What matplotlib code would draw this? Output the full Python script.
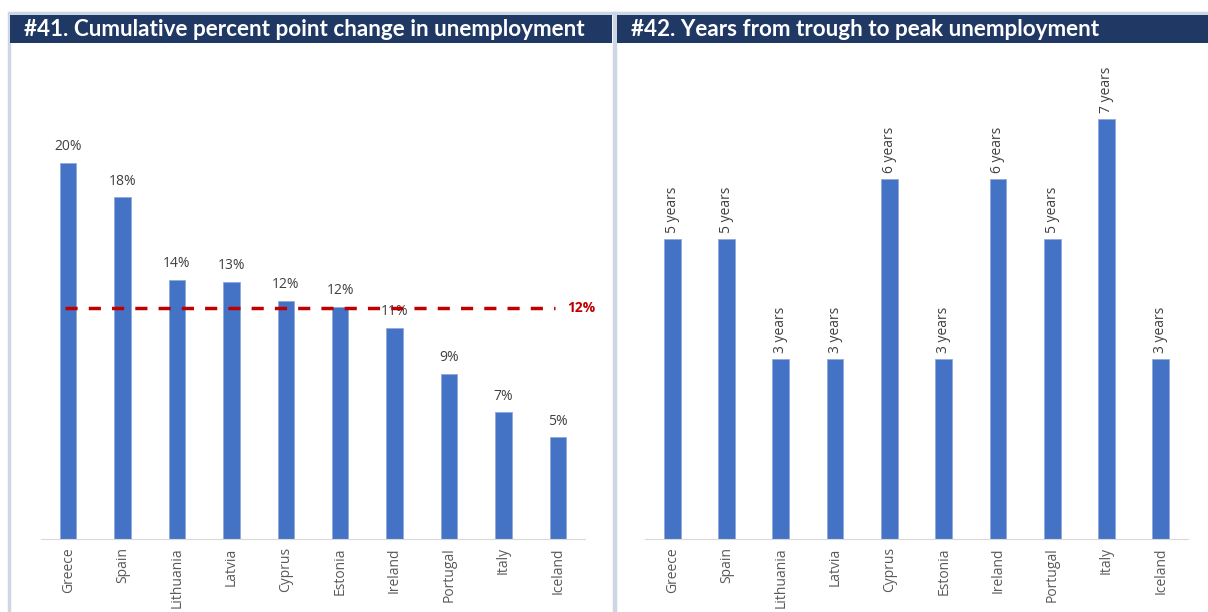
import numpy as np
import matplotlib
matplotlib.use("Agg")
import matplotlib.pyplot as plt
from matplotlib.patches import Rectangle

plt.rcParams['font.family'] = ['Open Sans', 'DejaVu Sans']

countries = ["Greece", "Spain", "Lithuania", "Latvia", "Cyprus",
             "Estonia", "Ireland", "Portugal", "Italy", "Iceland"]
pp_change = [19.6, 17.8, 13.5, 13.4, 12.4, 12.1, 11.0, 8.6, 6.6, 5.3]
years_to_peak = [5, 5, 3, 3, 6, 3, 6, 5, 7, 3]

title_left = "#41. Cumulative percent point change in unemployment"
title_right = "#42. Years from trough to peak unemployment"

W, H = 1208, 612
navy = "#203864"
frame = "#cdd6e4"
bar_blue = "#4472c4"
label_grey = "#404040"
tick_grey = "#595959"
avg_red = "#c00000"

fig = plt.figure(figsize=(W / 100, H / 100), dpi=100)


def px_box(x0, y0, x1, y1):
    # pixel box (top-left origin) -> figure fraction [left, bottom, width, height]
    return [x0 / W, 1 - y1 / H, (x1 - x0) / W, (y1 - y0) / H]


# panel frames and title bars
for x0, x1 in [(9, 614), (615, 1212)]:
    l, b, w, h = px_box(x0, 13, x1, 620)
    fig.patches.append(Rectangle((l, b), w, h, transform=fig.transFigure,
                                 facecolor="none", edgecolor=frame, lw=2.5,
                                 zorder=-1))
for x0, x1, txt in [(10, 612, title_left), (617, 1208, title_right)]:
    l, b, w, h = px_box(x0, 15, x1, 43)
    fig.patches.append(Rectangle((l, b), w, h, transform=fig.transFigure,
                                 facecolor=navy, edgecolor="none", zorder=-1))
    fig.text(l + 14 / W, b + h / 2 - 1 / H, txt, color="white", fontsize=16.2,
             fontweight="bold", ha="left", va="center", family="Lato")


def style_axes(ax, ymax):
    x = np.arange(len(countries))
    ax.set_xlim(-0.5, len(countries) - 0.5)
    ax.set_ylim(0, ymax)
    ax.set_xticks(x)
    ax.set_xticklabels(countries, rotation=90, color=tick_grey, fontsize=10)
    ax.tick_params(axis="x", length=0, pad=6)
    ax.set_yticks([])
    for s in ["top", "right", "left"]:
        ax.spines[s].set_visible(False)
    ax.spines["bottom"].set_color("#d9d9d9")
    ax.set_facecolor("none")
    return x


# left: cumulative change with average line
ax1 = fig.add_axes(px_box(41, 59, 585, 539))
x = style_axes(ax1, 25)
ax1.bar(x, pp_change, width=0.3, color=bar_blue, edgecolor="#8eaadc", lw=0.6)
for xi, v in zip(x, pp_change):
    ax1.text(xi, v + 0.45, f"{v:.0f}%", ha="center", va="bottom",
             color=label_grey, fontsize=10)
avg = np.mean(pp_change)
ax1.plot([x[0] - 0.05, x[-1] - 0.05], [avg, avg], color=avg_red, lw=2.5,
         dashes=(3.5, 3.2), zorder=3)
ax1.text(x[-1] + 0.17, avg, f"{avg:.0f}%", color=avg_red, fontsize=10,
         fontweight="bold", ha="left", va="center")

# right: years from trough to peak
ax2 = fig.add_axes(px_box(645, 59, 1188, 539))
x = style_axes(ax2, 8)
ax2.bar(x, years_to_peak, width=0.31, color=bar_blue, edgecolor="#8eaadc",
        lw=0.6)
for xi, v in zip(x, years_to_peak):
    ax2.text(xi, v + 0.1, f"{v} years", ha="center", va="bottom",
             rotation=90, color=label_grey, fontsize=10)

fig.savefig("out.png", dpi=100)
